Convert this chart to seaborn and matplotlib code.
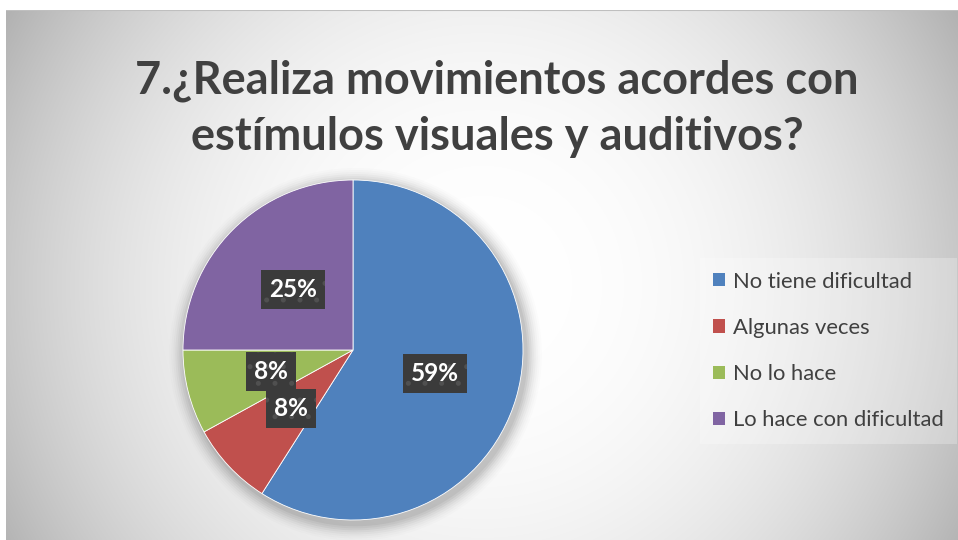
import numpy as np
import matplotlib
matplotlib.use("Agg")
import matplotlib.pyplot as plt
import seaborn as sns
from matplotlib.patches import Patch, Circle

categories = ["No tiene dificultad", "Algunas veces", "No lo hace", "Lo hace con dificultad"]
values = [59, 8, 8, 25]
colors = ["#4F81BD", "#C0504D", "#9BBB59", "#8064A2"]
title = "7.¿Realiza movimientos acordes con\nestímulos visuales y auditivos?"

sns.set_theme(style="white")
plt.rcParams['font.family'] = ['Lato', 'DejaVu Sans']
plt.rcParams['hatch.linewidth'] = 1.2

W, H = 958, 540
fig = plt.figure(figsize=(W / 100, H / 100), dpi=100)
fig.patch.set_facecolor("white")

# background radial gradient (chart area)
bg = fig.add_axes([6 / W, 0, (W - 6) / W, (H - 10) / H])
bg.set_axis_off()
yy, xx = np.mgrid[10:H, 6:W]
d = np.sqrt((xx - 482.0) ** 2 + (yy - 285.0) ** 2) / 476.0
c = 1 - 0.216 * np.clip(d, 0, 2) ** 2.4
c = np.clip(c, 0.7, 1)
img = np.dstack([c, c, c])
bg.imshow(img, aspect="auto", extent=[0, 1, 0, 1], origin="upper")
bg.set_xlim(0, 1)
bg.set_ylim(0, 1)
bg.plot([0, 1], [1, 1], color="#bfbfbf", lw=1.5)

# pie
cx, cy, r = 353, 350, 170
ax = fig.add_axes([(cx - r) / W, (H - cy - r) / H, 2 * r / W, 2 * r / H])
ax.set_axis_off()
# soft shadow
for i, a in enumerate(np.linspace(0.05, 0.01, 8)):
    ax.add_patch(Circle((0.015, -0.025), 1.0 + 0.012 * (i + 1), color="black", alpha=a,
                        lw=0, zorder=0, clip_on=False))
wedges, texts, autotexts = ax.pie(
    values, colors=colors, startangle=90, counterclock=False, radius=1.0,
    autopct="%.0f%%", pctdistance=0.5,
    wedgeprops=dict(edgecolor="white", linewidth=0.6),
    textprops=dict(color="white", fontsize=17.5, fontweight="bold"),
)
for w in wedges:
    w.set_zorder(2)
    w.set_clip_on(False)
for t in autotexts:
    t.set_zorder(5)
    t.set_bbox(dict(boxstyle="square,pad=0.33", facecolor="#3b3b3b", edgecolor="#505050",
                    linewidth=0, hatch="."))
ax.set_xlim(-1.0, 1.0)
ax.set_ylim(-1.0, 1.0)
ax.set_aspect("equal")

# title
fig.text(497 / W, 1 - 109 / H, title, ha="center", va="center", fontsize=32.5,
         fontweight="bold", color="#404040", linespacing=1.42)

# legend
handles = [Patch(facecolor=col, edgecolor="none") for col in colors]
leg = fig.legend(handles, categories, loc="center left", bbox_to_anchor=(700 / W, 1 - 351 / H),
                 frameon=True, fontsize=15.8, labelspacing=1.2, handlelength=0.55,
                 handleheight=0.55, handletextpad=0.35, borderpad=0.6, borderaxespad=0)
for t in leg.get_texts():
    t.set_color("#404040")
fr = leg.get_frame()
fr.set_facecolor("white")
fr.set_alpha(0.25)
fr.set_edgecolor("none")
fr.set_boxstyle("square", pad=0)

fig.savefig("out.png", dpi=100)
